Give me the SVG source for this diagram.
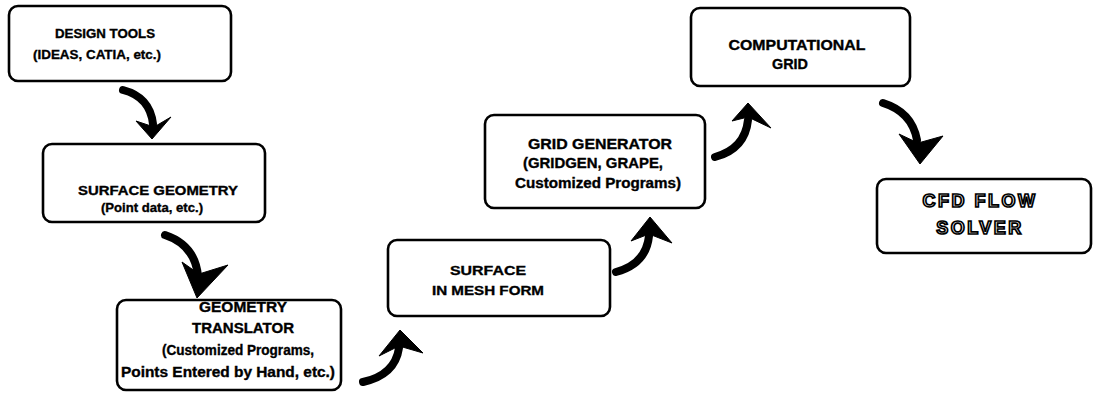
<svg xmlns="http://www.w3.org/2000/svg" width="1094" height="393" viewBox="0 0 1094 393">
<style>
.box{fill:#fff;stroke:#000;stroke-width:2.6}
.t{font-family:"Liberation Sans",Arial,sans-serif;font-weight:bold;font-size:13px;fill:#000;stroke:#000;stroke-width:0.35;text-anchor:middle}
.m{font-size:14px}
.l{font-size:15px}
.big{font-family:"Liberation Sans",Arial,sans-serif;font-weight:bold;font-size:18px;fill:#fff;stroke:#000;stroke-width:1.7;text-anchor:middle;letter-spacing:2.5px}
.shaft{fill:none;stroke:#000;stroke-width:8;stroke-linecap:round}
.head{fill:#000;stroke:#000;stroke-width:1;stroke-linejoin:round}
</style>
<rect width="1094" height="393" fill="#fff"/>
<g id="design-tools">
<rect class="box" x="9" y="6" width="222" height="75" rx="9"/>
<text class="t" x="105" y="38" textLength="100" lengthAdjust="spacingAndGlyphs">DESIGN TOOLS</text>
<text class="t" x="97" y="59" textLength="128" lengthAdjust="spacingAndGlyphs">(IDEAS, CATIA, etc.)</text>
</g>
<g id="surface-geometry">
<rect class="box" x="43" y="144" width="222" height="78" rx="9"/>
<text class="t" x="158" y="195" textLength="160" lengthAdjust="spacingAndGlyphs">SURFACE GEOMETRY</text>
<text class="t" x="152" y="212" textLength="102" lengthAdjust="spacingAndGlyphs">(Point data, etc.)</text>
</g>
<g id="geometry-translator">
<rect class="box" x="117" y="300" width="224" height="90" rx="9"/>
<text class="t m" x="243" y="312" textLength="88" lengthAdjust="spacingAndGlyphs">GEOMETRY</text>
<text class="t m" x="243" y="333" textLength="102" lengthAdjust="spacingAndGlyphs">TRANSLATOR</text>
<text class="t m" x="238" y="355" textLength="152" lengthAdjust="spacingAndGlyphs">(Customized Programs,</text>
<text class="t m" x="228" y="377" textLength="214" lengthAdjust="spacingAndGlyphs">Points Entered by Hand, etc.)</text>
</g>
<g id="surface-mesh">
<rect class="box" x="388" y="240" width="222" height="76" rx="9"/>
<text class="t" x="488" y="275" textLength="76" lengthAdjust="spacingAndGlyphs">SURFACE</text>
<text class="t" x="488" y="295" textLength="112" lengthAdjust="spacingAndGlyphs">IN MESH FORM</text>
</g>
<g id="grid-generator">
<rect class="box" x="485" y="115" width="220" height="93" rx="9"/>
<text class="t m" x="600" y="149" textLength="144" lengthAdjust="spacingAndGlyphs">GRID GENERATOR</text>
<text class="t m" x="593" y="168" textLength="140" lengthAdjust="spacingAndGlyphs">(GRIDGEN, GRAPE,</text>
<text class="t m" x="598" y="188" textLength="166" lengthAdjust="spacingAndGlyphs">Customized Programs)</text>
</g>
<g id="computational-grid">
<rect class="box" x="691" y="8" width="219" height="78" rx="9"/>
<text class="t l" x="797" y="50" textLength="137" lengthAdjust="spacingAndGlyphs">COMPUTATIONAL</text>
<text class="t l" x="790" y="69" textLength="36" lengthAdjust="spacingAndGlyphs">GRID</text>
</g>
<g id="cfd-flow-solver">
<rect class="box" x="877" y="179" width="214" height="74" rx="9"/>
<text class="big" x="980" y="207">CFD FLOW</text>
<text class="big" x="980" y="234">SOLVER</text>
</g>
<g id="connectors">
<path class="shaft" d="M123,90 Q150,97 153,124"/>
<polygon class="head" points="136,121 152,139 171,117 154,127"/>
<path class="shaft" d="M165,235 Q195,245 198,276"/>
<polygon class="head" points="182,262 197,298 228,265 199,274"/>
<path class="shaft" d="M363,382 Q395,375 399,348"/>
<polygon class="head" points="379,356 400,330 423,353 399,346"/>
<path class="shaft" d="M616,272 Q646,264 649,236"/>
<polygon class="head" points="631,241 650,217 672,243 649,234"/>
<path class="shaft" d="M715,157 Q745,149 748,120"/>
<polygon class="head" points="732,121 748,103 771,128 748,117"/>
<path class="shaft" d="M883,103 Q912,112 917,140"/>
<polygon class="head" points="899,134 920,164 943,136 918,143"/>
</g>
</svg>
